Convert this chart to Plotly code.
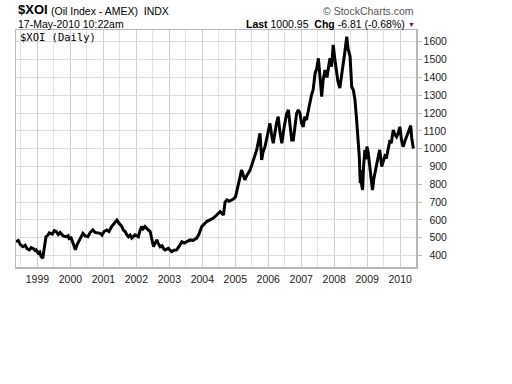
import plotly.graph_objects as go

# Decimal-year positions and index values
years = [1998.35, 1998.42, 1998.48, 1998.56, 1998.63, 1998.69, 1998.76, 1998.81, 1998.87, 1998.93,
         1998.96, 1999.02, 1999.07, 1999.11, 1999.16, 1999.20, 1999.26, 1999.32, 1999.36, 1999.45,
         1999.51, 1999.57, 1999.63, 1999.69, 1999.72, 1999.78, 1999.87, 1999.93, 1999.96, 2000.02,
         2000.08, 2000.15, 2000.20, 2000.27, 2000.32, 2000.38, 2000.45, 2000.53, 2000.60, 2000.68,
         2000.75, 2000.83, 2000.90, 2000.96, 2001.02, 2001.10, 2001.17, 2001.25, 2001.32, 2001.41,
         2001.48, 2001.56, 2001.60, 2001.66, 2001.70, 2001.76, 2001.81, 2001.86, 2001.96, 2002.06,
         2002.11, 2002.16, 2002.20, 2002.26, 2002.35, 2002.42, 2002.46, 2002.52, 2002.57, 2002.62,
         2002.66, 2002.72, 2002.78, 2002.82, 2002.87, 2002.97, 2003.02, 2003.07, 2003.14, 2003.22,
         2003.29, 2003.38, 2003.45, 2003.53, 2003.63, 2003.72, 2003.83, 2003.90, 2003.98, 2004.05,
         2004.13, 2004.23, 2004.33, 2004.42, 2004.54, 2004.64, 2004.69, 2004.75, 2004.81, 2004.89,
         2004.96, 2005.01, 2005.09, 2005.19, 2005.29, 2005.35, 2005.45, 2005.55, 2005.65, 2005.70,
         2005.75, 2005.80, 2005.84, 2005.90, 2005.98, 2006.05, 2006.10, 2006.15, 2006.25, 2006.30,
         2006.35, 2006.41, 2006.48, 2006.56, 2006.61, 2006.66, 2006.71, 2006.76, 2006.81, 2006.86,
         2006.91, 2006.96, 2007.01, 2007.06, 2007.11, 2007.16, 2007.20, 2007.26, 2007.31, 2007.36,
         2007.42, 2007.47, 2007.52, 2007.57, 2007.62, 2007.66, 2007.72, 2007.78, 2007.82, 2007.87,
         2007.92, 2007.97, 2008.02, 2008.07, 2008.11, 2008.17, 2008.22, 2008.27, 2008.32, 2008.38,
         2008.42, 2008.48, 2008.53, 2008.58, 2008.63, 2008.68, 2008.73, 2008.76, 2008.79, 2008.81,
         2008.83, 2008.86, 2008.89, 2008.93, 2008.96, 2008.99, 2009.03, 2009.08, 2009.13, 2009.16,
         2009.20, 2009.23, 2009.29, 2009.34, 2009.38, 2009.44, 2009.49, 2009.54, 2009.59, 2009.64,
         2009.69, 2009.73, 2009.79, 2009.84, 2009.89, 2009.94, 2009.99, 2010.04, 2010.09, 2010.14,
         2010.19, 2010.25, 2010.29, 2010.32, 2010.35, 2010.38, 2010.40]

values = [478, 485, 462, 450, 458, 438, 432, 445, 440, 428,
          432, 415, 420, 395, 385, 440, 506, 515, 527, 520,
          540, 535, 518, 530, 525, 510, 506, 512, 495, 499,
          470, 432, 460, 488, 505, 525, 510, 506, 530, 544,
          530, 525, 525, 515, 535, 544, 535, 563, 580, 600,
          580, 563, 545, 535, 520, 506, 515, 498, 516, 506,
          540, 563, 550, 563, 545, 535, 500, 450, 470, 488,
          470, 450, 455, 440, 432, 441, 430, 422, 430, 432,
          450, 478, 470, 478, 488, 485, 498, 520, 563, 575,
          591, 600, 610, 625, 647, 628, 700, 712, 705, 712,
          720, 731, 806, 880, 825, 850, 880, 937, 993, 1040,
          1086, 937, 980, 1011, 1080, 1142, 1080, 1030, 1142, 1180,
          1100, 1030, 1120, 1198, 1217, 1130, 1049, 1049, 1120, 1198,
          1217, 1200, 1142, 1123, 1180, 1161, 1200, 1260, 1300, 1329,
          1423, 1450, 1507, 1400, 1292, 1380, 1441, 1400, 1450, 1507,
          1460, 1582, 1500, 1423, 1380, 1340, 1400, 1480, 1540, 1628,
          1560, 1520, 1348, 1329, 1273, 1160, 1040, 955, 806, 880,
          800, 768, 900, 993, 940, 1011, 980, 899, 820, 768,
          830, 862, 920, 960, 993, 899, 930, 960, 955, 1000,
          1049, 1030, 1105, 1080, 1067, 1086, 1123, 1049, 1011, 1040,
          1067, 1100, 1123, 1130, 1060, 1011, 1001]

year_ticks = [1999, 2000, 2001, 2002, 2003, 2004, 2005, 2006, 2007, 2008, 2009, 2010]
price_ticks = [400, 500, 600, 700, 800, 900, 1000, 1100, 1200, 1300, 1400, 1500, 1600]

FONT = "Liberation Sans, Arial, sans-serif"

fig = go.Figure()
fig.add_trace(go.Scatter(x=years, y=values, mode="lines",
                         line=dict(color="black", width=3), hoverinfo="skip",
                         showlegend=False))

# plot area occupies pixels x 16..416, y 30..267
def px_x(px):
    return (px - 16) / 400.0

def px_y(py):
    return (267 - py) / 237.0

ann = []
ann.append(dict(text="<b>$XOI</b>", x=px_x(16), y=px_y(10), xanchor="left", yanchor="middle",
                font=dict(size=13, color="black", family=FONT)))
ann.append(dict(text="(Oil Index - AMEX)  INDX", x=px_x(49), y=px_y(10.5), xanchor="left",
                yanchor="middle", font=dict(size=10.5, color="black", family=FONT)))
ann.append(dict(text="17-May-2010 10:22am", x=px_x(16), y=px_y(24.5), xanchor="left",
                yanchor="middle", font=dict(size=10.5, color="black", family=FONT)))
ann.append(dict(text="© StockCharts.com", x=px_x(416), y=px_y(11), xanchor="right",
                yanchor="middle", font=dict(size=10.5, color="#555555", family=FONT)))
ann.append(dict(text="<b>Last</b> 1000.95  <b>Chg</b> -6.81 (-0.68%)", x=px_x(407), y=px_y(24.5),
                xanchor="right", yanchor="middle", font=dict(size=10.5, color="black", family=FONT)))
ann.append(dict(text="▼", x=px_x(411), y=px_y(24), xanchor="center", yanchor="middle",
                font=dict(size=7, color="#990033", family=FONT)))
ann.append(dict(text="$XOI (Daily)", x=px_x(18), y=px_y(36.5), xanchor="left", yanchor="middle",
                font=dict(size=10.5, color="black", family="DejaVu Sans Mono, monospace")))
for a in ann:
    a.update(xref="paper", yref="paper", showarrow=False)

tick_text = [("\u2007" + str(v)) if v < 1000 else str(v) for v in price_ticks]

fig.update_layout(
    width=512, height=384,
    margin=dict(l=16, r=96, t=30, b=117),
    paper_bgcolor="white", plot_bgcolor="white",
    font=dict(family=FONT, size=10, color="#222222"),
    annotations=ann,
    xaxis=dict(range=[1998.35, 2010.48], tickvals=year_ticks, ticktext=[str(y) for y in year_ticks],
               showgrid=True, gridcolor="#cfcfcf", gridwidth=1,
               minor=dict(dtick=0.5, tick0=1998.5, showgrid=True, gridcolor="#e2e2e2", gridwidth=1),
               showline=True, linecolor="#b8b8b8", linewidth=1.5, mirror=True,
               ticks="", zeroline=False, tickfont=dict(size=10.5, color="#222222"),
               ticklabelstandoff=2, fixedrange=True),
    yaxis=dict(range=[336, 1666], side="right", tickvals=price_ticks, ticktext=tick_text,
               showgrid=True, gridcolor="#dcdcdc", gridwidth=1,
               showline=True, linecolor="#b8b8b8", linewidth=1.5, mirror=True,
               ticks="outside", ticklen=4, tickcolor="#b8b8b8", zeroline=False,
               tickfont=dict(size=10.5, color="#222222"), fixedrange=True),
)

fig.write_html("out.html", config={"displayModeBar": False, "staticPlot": True},
               post_script="document.body.style.margin='0px';")
